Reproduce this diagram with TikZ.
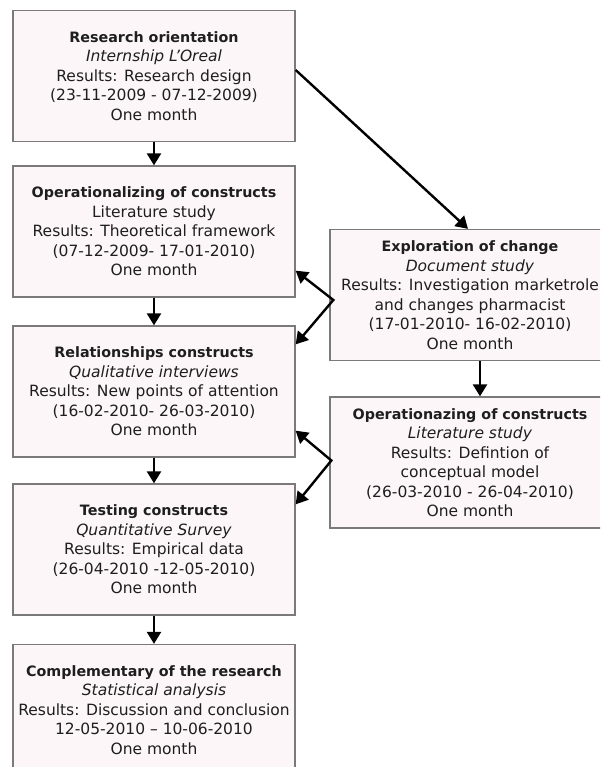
\documentclass[tikz,border=0pt]{standalone}
\usepackage{fontspec}
\setmainfont{DejaVu Sans}
\usetikzlibrary{arrows.meta,calc}
\definecolor{boxfill}{HTML}{FCF6F8}
\definecolor{boxline}{HTML}{7A7A7A}
\definecolor{txt}{HTML}{1E1E1E}
\newcommand{\ttl}[1]{{\fontsize{14.3}{19.5}\selectfont\bfseries #1}}
\begin{document}
\begin{tikzpicture}[x=1pt,y=-1pt,
  stagebox/.style={draw=boxline,fill=boxfill,line width=1.3pt,minimum width=282pt,minimum height=131pt,
    align=center,inner sep=0pt,text=txt,font=\fontsize{15.5}{19.5}\selectfont},
  rbox/.style={stagebox,minimum width=280pt},
  flow/.style={line width=2.4pt,-{Triangle[length=12pt,width=14pt]}},
  both/.style={line width=2.4pt,{Triangle[length=12pt,width=14pt]}-{Triangle[length=12pt,width=14pt]}}]
\useasboundingbox (0,0) rectangle (600,767);
\begin{scope}
\clip (0,0) rectangle (600,767);
\node[stagebox] (b1) at (154,76) {\ttl{Research orientation}\\ \textit{Internship L’Oreal}\\ Results: Research design\\ (23-11-2009 - 07-12-2009)\\ One month};
\node[stagebox] (b2) at (154,231.5) {\ttl{Operationalizing of constructs}\\ Literature study\\ Results: Theoretical framework\\ (07-12-2009- 17-01-2010)\\ One month};
\node[stagebox] (b4) at (154,391.5) {\ttl{Relationships constructs}\\ \textit{Qualitative interviews}\\ Results: New points of attention\\ (16-02-2010- 26-03-2010)\\ One month};
\node[stagebox] (b6) at (154,549.5) {\ttl{Testing constructs}\\ \textit{Quantitative Survey}\\ Results: Empirical data\\ (26-04-2010 -12-05-2010)\\ One month};
\node[stagebox] (b7) at (154,710) {\ttl{Complementary of the research}\\ \textit{Statistical analysis}\\ Results: Discussion and conclusion\\ 12-05-2010 – 10-06-2010\\ One month};
\node[rbox] (b3) at (470,295) {\ttl{Exploration of change}\\ \textit{Document study}\\ Results: Investigation marketrole\\ and changes pharmacist\\ (17-01-2010- 16-02-2010)\\ One month};
\node[rbox] (b5) at (470,462.5) {\ttl{Operationazing of constructs}\\ \textit{Literature study}\\ Results: Defintion of\\ conceptual model\\ (26-03-2010 - 26-04-2010)\\ One month};
\end{scope}
\draw[flow] (b1.south) -- (b2.north);
\draw[flow] (b2.south) -- (b4.north);
\draw[flow] (b4.south) -- (b6.north);
\draw[flow] (b6.south) -- (b7.north);
\draw[flow] ($(b1.east)+(0,-6)$) -- ($(b3.north)+(-2,0)$);
\draw[flow] ($(b3.south)+(10,0)$) -- ($(b5.north)+(10,0)$);
\draw[both] ($(b2.south east)+(0,-27)$) -- ($(b3.west)+(4,5)$) -- ($(b4.north east)+(0,19)$);
\draw[both] ($(b4.south east)+(0,-27)$) -- ($(b5.west)+(2,-2)$) -- ($(b6.north east)+(0,21)$);
\end{tikzpicture}
\end{document}
